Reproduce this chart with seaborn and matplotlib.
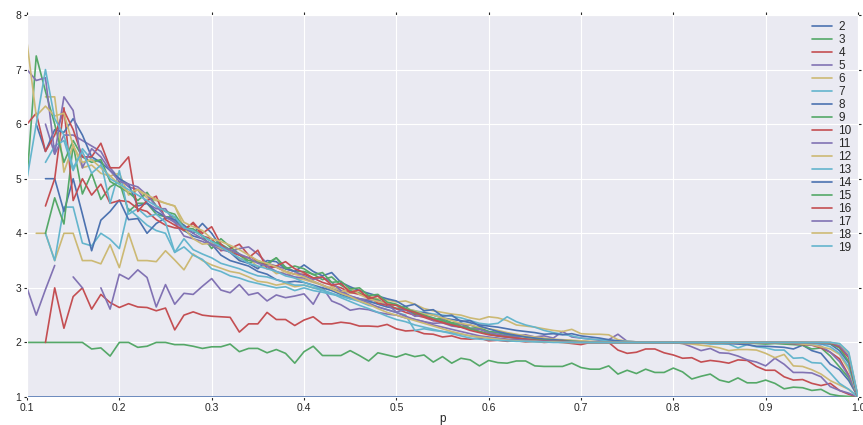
import numpy as np
import pandas as pd
import matplotlib
matplotlib.use("Agg")
import matplotlib.pyplot as plt
import seaborn as sns

nan = np.nan

# p grid (0.10 .. 1.00, step 0.01)
p_values = np.round(np.arange(0.10, 1.001, 0.01), 2)
sizes = list(range(2, 20))

d2 = [1.00, 1.00, 1.00, 1.00, 1.00, 1.00, 1.00, 1.00, 1.00, 1.00,
      1.00, 1.00, 1.00, 1.00, 1.00, 1.00, 1.00, 1.00, 1.00, 1.00,
      1.00, 1.00, 1.00, 1.00, 1.00, 1.00, 1.00, 1.00, 1.00, 1.00,
      1.00, 1.00, 1.00, 1.00, 1.00, 1.00, 1.00, 1.00, 1.00, 1.00,
      1.00, 1.00, 1.00, 1.00, 1.00, 1.00, 1.00, 1.00, 1.00, 1.00,
      1.00, 1.00, 1.00, 1.00, 1.00, 1.00, 1.00, 1.00, 1.00, 1.00,
      1.00, 1.00, 1.00, 1.00, 1.00, 1.00, 1.00, 1.00, 1.00, 1.00,
      1.00, 1.00, 1.00, 1.00, 1.00, 1.00, 1.00, 1.00, 1.00, 1.00,
      1.00, 1.00, 1.00, 1.00, 1.00, 1.00, 1.00, 1.00, 1.00, 1.00,
      1.00]
d3 = [2.00, 2.00, 2.00, 2.00, 2.00, 2.00, 2.00, 1.88, 1.90, 1.75,
      2.00, 2.00, 1.91, 1.93, 2.00, 2.00, 1.96, 1.96, 1.93, 1.89,
      1.92, 1.92, 1.97, 1.83, 1.89, 1.89, 1.81, 1.87, 1.80, 1.62,
      1.83, 1.93, 1.76, 1.76, 1.76, 1.85, 1.76, 1.66, 1.81, 1.77,
      1.73, 1.79, 1.74, 1.77, 1.64, 1.74, 1.62, 1.71, 1.68, 1.57,
      1.67, 1.63, 1.62, 1.66, 1.66, 1.57, 1.56, 1.56, 1.56, 1.62,
      1.54, 1.51, 1.51, 1.57, 1.42, 1.49, 1.43, 1.51, 1.45, 1.45,
      1.53, 1.46, 1.33, 1.38, 1.42, 1.31, 1.27, 1.35, 1.26, 1.26,
      1.31, 1.25, 1.15, 1.18, 1.17, 1.12, 1.14, 1.05, 1.02, 1.01,
      1.00]
d4 = [nan, nan, 2.00, 3.00, 2.26, 2.84, 3.00, 2.61, 2.88, 2.73,
      2.64, 2.71, 2.65, 2.64, 2.58, 2.63, 2.23, 2.50, 2.56, 2.50,
      2.48, 2.47, 2.46, 2.19, 2.34, 2.34, 2.55, 2.42, 2.42, 2.31,
      2.41, 2.47, 2.34, 2.34, 2.37, 2.35, 2.30, 2.30, 2.29, 2.33,
      2.25, 2.21, 2.22, 2.16, 2.15, 2.10, 2.12, 2.07, 2.06, 2.08,
      2.03, 2.04, 2.02, 2.03, 2.01, 2.02, 2.00, 2.01, 2.00, 1.98,
      1.96, 2.00, 2.00, 2.00, 1.86, 1.80, 1.82, 1.88, 1.88, 1.81,
      1.77, 1.71, 1.72, 1.64, 1.67, 1.65, 1.62, 1.68, 1.67, 1.56,
      1.49, 1.49, 1.37, 1.31, 1.32, 1.25, 1.21, 1.25, 1.12, 1.05,
      1.00]
d5 = [3.00, 2.50, 2.97, 3.41, nan, 3.20, 3.00, nan, 3.00, 2.61,
      3.25, 3.16, 3.33, 3.19, 2.65, 3.06, 2.70, 2.90, 2.88, 3.03,
      3.17, 2.96, 2.91, 3.06, 2.87, 2.91, 2.76, 2.87, 2.82, 2.85,
      2.89, 2.70, 3.01, 2.76, 2.69, 2.59, 2.62, 2.60, 2.55, 2.52,
      2.50, 2.45, 2.42, 2.38, 2.35, 2.36, 2.30, 2.28, 2.32, 2.25,
      2.20, 2.18, 2.15, 2.12, 2.14, 2.10, 2.12, 2.08, 2.20, 2.10,
      2.08, 2.06, 2.04, 2.05, 2.15, 2.02, 2.01, 2.00, 2.00, 2.00,
      2.00, 1.98, 1.92, 1.85, 1.89, 1.81, 1.80, 1.75, 1.68, 1.64,
      1.57, 1.71, 1.60, 1.45, 1.45, 1.44, 1.37, 1.19, 1.12, 1.07,
      1.00]
d6 = [nan, 4.00, 4.00, 3.50, 4.00, 4.00, 3.50, 3.50, 3.44, 3.79,
      3.37, 4.00, 3.50, 3.50, 3.48, 3.68, 3.51, 3.33, 3.62, 3.50,
      3.42, 3.36, 3.30, 3.27, 3.20, 3.12, 3.10, 3.05, 3.08, 3.02,
      3.05, 3.00, 2.98, 3.02, 2.95, 2.90, 2.92, 2.85, 2.80, 2.78,
      2.74, 2.76, 2.70, 2.62, 2.58, 2.55, 2.52, 2.50, 2.45, 2.42,
      2.47, 2.45, 2.40, 2.32, 2.30, 2.28, 2.25, 2.22, 2.20, 2.24,
      2.16, 2.15, 2.15, 2.14, 2.05, 2.02, 2.01, 2.00, 2.00, 2.00,
      2.00, 1.98, 1.97, 1.95, 1.93, 1.90, 1.85, 1.87, 1.87, 1.86,
      1.80, 1.72, 1.78, 1.57, 1.56, 1.50, 1.42, 1.30, 1.22, 1.14,
      1.00]
d7 = [nan, nan, 4.00, 3.50, 4.48, 4.48, 3.82, 3.77, 4.00, 3.89,
      3.72, 4.45, 4.30, 4.15, 4.05, 4.00, 3.65, 3.75, 3.60, 3.52,
      3.35, 3.30, 3.22, 3.18, 3.12, 3.08, 3.04, 3.00, 3.02, 2.95,
      3.00, 2.95, 2.92, 2.88, 2.85, 2.80, 2.78, 2.74, 2.72, 2.70,
      2.68, 2.62, 2.58, 2.55, 2.52, 2.50, 2.48, 2.45, 2.40, 2.35,
      2.33, 2.35, 2.47, 2.38, 2.32, 2.28, 2.22, 2.18, 2.15, 2.12,
      2.08, 2.06, 2.05, 2.03, 2.02, 2.02, 2.01, 2.01, 2.00, 2.00,
      2.00, 2.00, 2.00, 1.99, 1.97, 1.97, 1.97, 1.90, 1.96, 1.92,
      1.90, 1.86, 1.86, 1.71, 1.72, 1.63, 1.62, 1.44, 1.25, 1.14,
      1.00]
d8 = [nan, nan, 5.00, 5.00, 4.40, 5.00, 4.35, 3.68, 4.24, 4.40,
      4.61, 4.25, 4.27, 4.00, 4.18, 4.28, 4.25, 4.05, 3.95, 3.90,
      3.80, 3.60, 3.50, 3.45, 3.40, 3.30, 3.25, 3.15, 3.10, 3.12,
      3.10, 3.05, 3.00, 2.95, 2.88, 2.82, 2.80, 2.76, 2.70, 2.65,
      2.62, 2.60, 2.52, 2.55, 2.50, 2.45, 2.42, 2.40, 2.36, 2.32,
      2.30, 2.28, 2.25, 2.22, 2.20, 2.18, 2.15, 2.16, 2.14, 2.16,
      2.12, 2.10, 2.08, 2.05, 2.03, 2.01, 2.00, 2.00, 2.00, 2.00,
      2.00, 2.00, 2.00, 2.00, 2.00, 1.99, 1.98, 1.97, 1.96, 1.93,
      1.93, 1.92, 1.91, 1.88, 1.95, 1.85, 1.80, 1.60, 1.50, 1.30,
      1.00]
d9 = [nan, nan, 4.00, 4.65, 4.17, 5.62, 4.72, 5.10, 4.62, 4.85,
      4.95, 4.40, 4.55, 4.55, 4.35, 4.30, 4.30, 4.05, 4.05, 3.95,
      3.72, 3.90, 3.75, 3.62, 3.45, 3.50, 3.42, 3.55, 3.38, 3.30,
      3.30, 3.25, 3.15, 3.20, 3.05, 2.95, 2.90, 2.82, 2.78, 2.70,
      2.62, 2.66, 2.52, 2.50, 2.42, 2.44, 2.36, 2.35, 2.26, 2.27,
      2.20, 2.18, 2.14, 2.12, 2.10, 2.08, 2.06, 2.05, 2.04, 2.03,
      2.02, 2.01, 2.01, 2.00, 2.00, 2.00, 2.00, 2.00, 2.00, 2.00,
      2.00, 2.00, 2.00, 2.00, 2.00, 2.00, 2.00, 2.00, 1.99, 1.98,
      1.97, 1.98, 1.97, 1.96, 1.95, 1.88, 1.90, 1.75, 1.55, 1.35,
      1.00]
d10 = [nan, nan, 4.50, 5.00, 6.30, 4.60, 5.00, 4.70, 4.90, 4.55,
       4.60, 4.58, 4.45, 4.40, 4.25, 4.15, 4.10, 4.08, 4.18, 3.95,
       3.90, 3.68, 3.72, 3.80, 3.60, 3.48, 3.40, 3.38, 3.30, 3.25,
       3.25, 3.18, 3.10, 3.05, 3.00, 2.92, 2.88, 2.85, 2.72, 2.68,
       2.62, 2.55, 2.50, 2.46, 2.40, 2.38, 2.32, 2.28, 2.25, 2.20,
       2.16, 2.12, 2.10, 2.08, 2.06, 2.05, 2.04, 2.03, 2.02, 2.02,
       2.01, 2.00, 2.00, 2.00, 2.00, 2.00, 2.00, 2.00, 2.00, 2.00,
       2.00, 2.00, 2.00, 2.00, 2.00, 2.00, 2.00, 2.00, 2.00, 2.00,
       2.00, 1.99, 1.99, 1.98, 1.96, 1.95, 1.90, 1.82, 1.70, 1.40,
       1.00]
d11 = [nan, nan, 6.00, 5.45, 5.80, 5.80, 5.70, 5.60, 5.50, 5.20,
       5.00, 4.85, 4.80, 4.55, 4.45, 4.45, 4.20, 3.95, 3.90, 3.85,
       3.78, 3.70, 3.66, 3.72, 3.75, 3.62, 3.45, 3.40, 3.35, 3.30,
       3.22, 3.15, 3.20, 3.10, 2.95, 2.85, 2.80, 2.78, 2.76, 2.70,
       2.56, 2.60, 2.48, 2.50, 2.40, 2.42, 2.32, 2.34, 2.25, 2.24,
       2.18, 2.15, 2.12, 2.10, 2.12, 2.08, 2.06, 2.05, 2.04, 2.03,
       2.02, 2.01, 2.01, 2.00, 2.00, 2.00, 2.00, 2.00, 2.00, 2.00,
       2.00, 2.00, 2.00, 2.00, 2.00, 2.00, 2.00, 2.00, 2.00, 2.00,
       2.00, 2.00, 1.99, 1.98, 1.97, 1.95, 1.93, 1.82, 1.65, 1.38,
       1.00]
d12 = [nan, nan, 6.50, 6.50, 5.12, 5.62, 5.20, 5.25, 5.10, 5.05,
       5.10, 4.70, 4.80, 4.65, 4.60, 4.55, 4.50, 4.10, 3.90, 3.80,
       3.82, 3.72, 3.68, 3.52, 3.55, 3.38, 3.40, 3.26, 3.30, 3.18,
       3.15, 3.10, 3.05, 2.98, 2.92, 3.00, 2.88, 2.80, 2.75, 2.72,
       2.68, 2.62, 2.58, 2.52, 2.50, 2.45, 2.40, 2.35, 2.32, 2.28,
       2.25, 2.22, 2.18, 2.15, 2.12, 2.10, 2.08, 2.06, 2.05, 2.04,
       2.03, 2.02, 2.01, 2.00, 2.00, 2.00, 2.00, 2.00, 2.00, 2.00,
       2.00, 2.00, 2.00, 2.00, 2.00, 2.00, 2.00, 2.00, 2.00, 2.00,
       2.00, 2.00, 1.99, 1.99, 1.97, 1.96, 1.92, 1.88, 1.78, 1.50,
       1.00]
d13 = [nan, nan, 5.30, 5.60, 5.70, 5.15, 5.55, 5.35, 5.30, 4.55,
       5.15, 4.35, 4.45, 4.30, 4.35, 4.20, 3.65, 3.90, 3.70, 3.62,
       3.55, 3.45, 3.40, 3.35, 3.28, 3.22, 3.20, 3.15, 3.10, 3.05,
       3.05, 3.00, 2.95, 2.90, 2.85, 2.80, 2.75, 2.68, 2.65, 2.60,
       2.55, 2.50, 2.22, 2.25, 2.22, 2.20, 2.18, 2.15, 2.12, 2.10,
       2.08, 2.06, 2.05, 2.04, 2.03, 2.02, 2.02, 2.01, 2.01, 2.00,
       2.00, 2.00, 2.00, 2.00, 2.00, 2.00, 2.00, 2.01, 2.00, 2.00,
       2.00, 2.00, 2.00, 2.00, 2.00, 2.00, 2.00, 2.00, 2.00, 2.00,
       2.00, 2.00, 2.00, 2.00, 1.99, 1.98, 1.97, 1.92, 1.80, 1.55,
       1.00]
d14 = [nan, 6.00, 5.50, 5.90, 5.85, 6.10, 5.80, 5.40, 5.30, 5.15,
       5.00, 4.90, 4.50, 4.55, 4.40, 4.30, 4.25, 4.15, 4.00, 4.18,
       4.00, 3.75, 3.65, 3.50, 3.45, 3.35, 3.50, 3.48, 3.35, 3.30,
       3.42, 3.30, 3.22, 3.28, 3.10, 3.02, 2.95, 2.90, 2.85, 2.80,
       2.76, 2.66, 2.70, 2.58, 2.60, 2.48, 2.50, 2.38, 2.40, 2.30,
       2.25, 2.20, 2.16, 2.13, 2.10, 2.08, 2.06, 2.05, 2.04, 2.02,
       2.01, 2.00, 2.00, 2.00, 2.00, 2.00, 2.00, 2.00, 2.00, 2.00,
       2.00, 2.00, 2.00, 2.00, 2.00, 2.00, 2.00, 2.00, 2.00, 2.00,
       2.00, 2.00, 2.00, 2.00, 2.00, 1.99, 1.98, 1.97, 1.85, 1.62,
       1.00]
d15 = [5.00, 7.25, 6.60, 6.00, 5.30, 5.70, 5.40, 5.30, 5.35, 4.95,
       4.85, 4.75, 4.60, 4.75, 4.50, 4.40, 4.35, 4.10, 4.08, 3.95,
       3.85, 3.80, 3.70, 3.60, 3.50, 3.48, 3.45, 3.55, 3.35, 3.40,
       3.35, 3.24, 3.28, 3.10, 3.12, 2.98, 3.00, 2.86, 2.88, 2.74,
       2.70, 2.62, 2.56, 2.50, 2.45, 2.40, 2.35, 2.30, 2.25, 2.20,
       2.15, 2.12, 2.10, 2.08, 2.06, 2.05, 2.04, 2.03, 2.02, 2.02,
       2.01, 2.00, 2.00, 2.00, 2.00, 2.00, 2.00, 2.00, 2.00, 2.00,
       2.00, 2.00, 2.00, 2.00, 2.00, 2.00, 2.00, 2.00, 2.00, 2.00,
       2.00, 2.00, 2.00, 2.00, 2.00, 2.00, 2.00, 1.98, 1.90, 1.65,
       1.00]
d16 = [6.00, 6.20, 5.50, 5.80, 6.25, 5.90, 5.40, 5.40, 5.65, 5.20,
       5.20, 5.40, 4.40, 4.60, 4.68, 4.25, 4.15, 4.05, 4.20, 4.00,
       4.12, 3.80, 3.65, 3.60, 3.55, 3.69, 3.35, 3.40, 3.48, 3.35,
       3.28, 3.18, 3.20, 3.05, 3.08, 2.92, 2.96, 2.80, 2.85, 2.70,
       2.68, 2.60, 2.55, 2.48, 2.42, 2.36, 2.32, 2.28, 2.22, 2.18,
       2.14, 2.12, 2.10, 2.08, 2.06, 2.04, 2.03, 2.02, 2.02, 2.01,
       2.00, 2.00, 2.00, 2.00, 2.00, 2.00, 2.00, 2.00, 2.00, 2.00,
       2.00, 2.00, 2.00, 2.00, 2.00, 2.00, 2.00, 2.00, 2.00, 2.00,
       2.00, 2.00, 2.00, 2.00, 2.00, 2.00, 2.00, 1.99, 1.92, 1.72,
       1.00]
d17 = [7.00, 6.80, 6.85, 5.45, 6.50, 6.25, 5.20, 5.55, 5.40, 5.15,
       4.95, 4.90, 4.85, 4.70, 4.50, 4.30, 4.20, 4.10, 4.00, 3.90,
       3.80, 3.75, 3.70, 3.62, 3.55, 3.45, 3.40, 3.30, 3.25, 3.20,
       3.18, 3.12, 3.05, 2.98, 2.92, 2.85, 2.80, 2.72, 2.65, 2.60,
       2.55, 2.48, 2.42, 2.38, 2.32, 2.28, 2.24, 2.20, 2.16, 2.12,
       2.10, 2.08, 2.06, 2.05, 2.04, 2.03, 2.02, 2.02, 2.01, 2.01,
       2.00, 2.00, 2.00, 2.00, 2.00, 2.00, 2.00, 2.00, 2.00, 2.00,
       2.00, 2.00, 2.00, 2.00, 2.00, 2.00, 2.00, 2.00, 2.00, 2.00,
       2.00, 2.00, 2.00, 2.00, 2.00, 2.00, 2.00, 2.00, 1.94, 1.75,
       1.00]
d18 = [7.50, 6.15, 6.33, 6.15, 6.20, 5.60, 5.30, 5.35, 5.20, 5.05,
       4.90, 4.75, 4.80, 4.70, 4.62, 4.55, 4.50, 4.20, 4.12, 4.05,
       3.90, 3.85, 3.78, 3.70, 3.60, 3.50, 3.45, 3.38, 3.30, 3.25,
       3.20, 3.12, 3.05, 2.98, 2.90, 2.84, 2.76, 2.70, 2.62, 2.55,
       2.50, 2.45, 2.40, 2.35, 2.30, 2.25, 2.20, 2.16, 2.12, 2.10,
       2.08, 2.06, 2.04, 2.03, 2.02, 2.02, 2.01, 2.01, 2.00, 2.00,
       2.00, 2.00, 2.00, 2.00, 2.00, 2.00, 2.00, 2.00, 2.00, 2.00,
       2.00, 2.00, 2.00, 2.00, 2.00, 2.00, 2.00, 2.00, 2.00, 2.00,
       2.00, 2.00, 2.00, 2.00, 2.00, 2.00, 2.00, 2.00, 1.97, 1.80,
       1.00]
d19 = [5.00, 6.00, 7.00, 6.10, 5.80, 5.20, 5.50, 5.10, 5.25, 5.00,
       4.90, 4.80, 4.70, 4.60, 4.50, 4.40, 4.30, 4.10, 4.05, 3.95,
       3.85, 3.75, 3.65, 3.55, 3.45, 3.40, 3.35, 3.30, 3.22, 3.18,
       3.10, 3.04, 2.96, 2.90, 2.82, 2.75, 2.68, 2.62, 2.55, 2.48,
       2.42, 2.38, 2.32, 2.28, 2.24, 2.20, 2.16, 2.12, 2.08, 2.06,
       2.05, 2.04, 2.03, 2.02, 2.02, 2.01, 2.01, 2.00, 2.00, 2.00,
       2.00, 2.00, 2.00, 2.00, 2.00, 2.00, 2.00, 2.00, 2.00, 2.00,
       2.00, 2.00, 2.00, 2.00, 2.00, 2.00, 2.00, 2.00, 2.00, 2.00,
       2.00, 2.00, 2.00, 2.00, 2.00, 2.00, 2.00, 2.00, 1.98, 1.82,
       1.00]

series = [d2, d3, d4, d5, d6, d7, d8, d9, d10, d11,
          d12, d13, d14, d15, d16, d17, d18, d19]

# long form table; "seg" splits a series where values are missing
rows = []
for n, vals in zip(sizes, series):
    seg = 0
    for p, v in zip(p_values, vals):
        if np.isnan(v):
            seg += 1
            continue
        rows.append({"n": str(n), "p": p, "d": v, "seg": f"{n}-{seg}"})
df = pd.DataFrame(rows)

sns.set_style("darkgrid")
plt.rcParams["font.family"] = ["Liberation Sans", "DejaVu Sans"]

fig = plt.figure(figsize=(8.63, 4.25), dpi=100)
ax = fig.add_axes([27 / 863, 28 / 425, 831 / 863, 382 / 425])

colors = sns.color_palette("deep6", len(sizes))
sns.lineplot(data=df, x="p", y="d", hue="n", hue_order=[str(n) for n in sizes],
             units="seg", estimator=None, palette=colors, linewidth=1.2, ax=ax)

ax.set_xlim(0.1, 1.0)
ax.set_ylim(1, 8)
ax.set_xticks(np.arange(0.1, 1.01, 0.1))
ax.set_yticks(range(1, 9))
ax.set_xlabel("p", fontsize=8.5, color=".15", labelpad=0)
ax.set_ylabel("")
ax.tick_params(axis="both", labelsize=7.5, colors=".15", length=2.5, width=0.8,
               top=True, right=True, bottom=True, left=True, direction="out", pad=1.5)

sns.move_legend(ax, "upper right", frameon=False, title="", fontsize=8.5,
                labelspacing=0.08, handlelength=1.7, handletextpad=0.55,
                borderaxespad=0.15)

fig.savefig("out.png", dpi=100)
